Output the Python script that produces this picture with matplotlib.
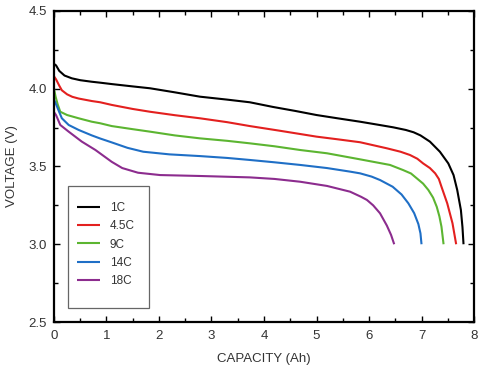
import matplotlib
matplotlib.use("Agg")
import matplotlib.pyplot as plt
from matplotlib.patches import Rectangle

plt.rcParams['font.family'] = ['Liberation Sans Narrow', 'Liberation Sans', 'DejaVu Sans']

labels = ["1C", "4.5C", "9C", "14C", "18C"]
colors = ["#000000", "#e3201f", "#5cb531", "#1f6fc6", "#8c2c8e"]

x_1c = [0, 0.04, 0.1, 0.2, 0.34, 0.5, 0.72, 0.88, 1.1, 1.5, 1.83, 2.3, 2.78, 3.3, 3.73, 4.17, 4.6, 5.0, 5.4,
        5.83, 6.2, 6.46, 6.7, 6.85, 6.98, 7.16, 7.35, 7.51, 7.61, 7.68, 7.75, 7.78, 7.80]
y_1c = [4.16, 4.15, 4.115, 4.085, 4.067, 4.055, 4.045, 4.039, 4.03, 4.015, 4.003, 3.977, 3.949, 3.93, 3.913,
        3.883, 3.857, 3.831, 3.81, 3.788, 3.767, 3.752, 3.735, 3.72, 3.70, 3.66, 3.595, 3.52, 3.445, 3.349,
        3.22, 3.11, 3.0]

x_45c = [0, 0.04, 0.1, 0.15, 0.25, 0.35, 0.47, 0.72, 0.88, 1.1, 1.5, 1.83, 2.3, 2.78, 3.3, 3.73, 4.3, 5.0,
         5.4, 5.83, 6.34, 6.6, 6.78, 6.92, 7.03, 7.16, 7.26, 7.33, 7.38, 7.49, 7.59, 7.66]
y_45c = [4.08, 4.06, 4.02, 3.99, 3.964, 3.948, 3.937, 3.921, 3.913, 3.896, 3.87, 3.852, 3.83, 3.81, 3.785,
         3.76, 3.73, 3.692, 3.675, 3.656, 3.617, 3.595, 3.574, 3.55, 3.52, 3.49, 3.456, 3.42, 3.37, 3.263,
         3.135, 3.0]

x_9c = [0, 0.03, 0.07, 0.12, 0.25, 0.47, 0.72, 0.88, 1.1, 1.5, 1.83, 2.3, 2.78, 3.3, 3.73, 4.2, 4.69, 5.2,
        5.83, 6.4, 6.65, 6.8, 6.91, 7.03, 7.13, 7.22, 7.29, 7.34, 7.38, 7.42]
y_9c = [4.0, 3.95, 3.9, 3.852, 3.831, 3.81, 3.788, 3.778, 3.76, 3.74, 3.724, 3.70, 3.681, 3.665, 3.649, 3.63,
        3.606, 3.585, 3.546, 3.51, 3.477, 3.455, 3.424, 3.39, 3.349, 3.30, 3.241, 3.18, 3.113, 3.0]

x_14c = [0, 0.04, 0.1, 0.15, 0.28, 0.47, 0.72, 0.88, 1.1, 1.4, 1.7, 2.2, 2.78, 3.3, 3.73, 4.2, 4.69, 5.2,
         5.64, 5.83, 6.05, 6.21, 6.45, 6.62, 6.75, 6.86, 6.94, 6.98, 7.0]
y_14c = [3.93, 3.90, 3.85, 3.81, 3.767, 3.735, 3.70, 3.68, 3.655, 3.62, 3.595, 3.578, 3.567, 3.555, 3.542,
         3.527, 3.51, 3.49, 3.467, 3.456, 3.435, 3.413, 3.37, 3.32, 3.263, 3.20, 3.13, 3.07, 3.0]

x_18c = [0, 0.04, 0.12, 0.28, 0.53, 0.79, 1.1, 1.3, 1.6, 2.02, 2.78, 3.73, 4.2, 4.69, 5.2, 5.64, 5.85, 5.96,
         6.08, 6.21, 6.34, 6.42, 6.48]
y_18c = [3.85, 3.83, 3.767, 3.724, 3.66, 3.606, 3.53, 3.49, 3.46, 3.445, 3.439, 3.43, 3.42, 3.402, 3.375,
         3.338, 3.305, 3.285, 3.25, 3.199, 3.12, 3.06, 3.0]

series_x = [x_1c, x_45c, x_9c, x_14c, x_18c]
series_y = [y_1c, y_45c, y_9c, y_14c, y_18c]

fig = plt.figure(figsize=(4.79, 3.70), dpi=100)
ax = fig.add_axes([0.1127, 0.1297, 0.8769, 0.8406])

for xs, ys, lab, c in zip(series_x, series_y, labels, colors):
    ax.plot(xs, ys, color=c, lw=1.5, label=lab, solid_joinstyle='round', solid_capstyle='butt')

ax.set_xlim(0, 8)
ax.set_ylim(2.5, 4.5)
ax.set_xticks(range(0, 9))
ax.set_xticks([i + 0.5 for i in range(8)], minor=True)
ax.set_yticks([2.5, 3.0, 3.5, 4.0, 4.5])
ax.set_yticklabels(["2.5", "3.0", "3.5", "4.0", "4.5"])
ax.set_yticks([2.75, 3.25, 3.75, 4.25], minor=True)
ax.tick_params(which='both', direction='in', top=True, right=True, width=1.0, labelsize=9.5,
               colors='#000000', labelcolor='#333333')
ax.tick_params(which='major', length=4)
ax.tick_params(which='minor', length=3)
ax.tick_params(axis='x', pad=6)
ax.tick_params(axis='y', pad=5)
for s in ax.spines.values():
    s.set_linewidth(1.6)

ax.set_xlabel("CAPACITY (Ah)", fontsize=9.5, color='#333333', labelpad=8)
ax.set_ylabel("VOLTAGE (V)", fontsize=9.5, color='#333333', labelpad=8)

leg = ax.legend(loc='upper left', bbox_to_anchor=(0.054, 0.385), frameon=False,
                borderpad=0, borderaxespad=0, handlelength=2.0, handletextpad=0.8,
                labelspacing=0.52, fontsize=8.5)
for t in leg.get_texts():
    t.set_color('#333333')
ax.add_patch(Rectangle((0.034, 0.046), 0.193, 0.391, transform=ax.transAxes,
                       fill=False, edgecolor='#666666', lw=0.9, zorder=5))

fig.savefig("out.png", dpi=100)
